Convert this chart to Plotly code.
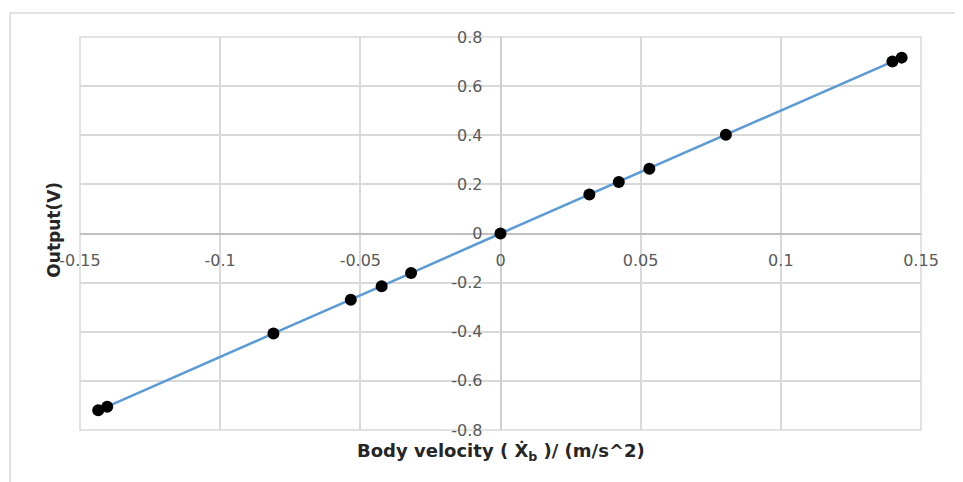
import plotly.graph_objects as go

velocity = [-0.1435, -0.1403, -0.081, -0.0534, -0.0424, -0.0319, 0.0,
            0.0317, 0.0422, 0.0531, 0.0804, 0.1398, 0.1431]
output_v = [-0.72, -0.705, -0.407, -0.27, -0.215, -0.161, 0.0,
            0.159, 0.21, 0.264, 0.402, 0.70, 0.716]

x_ticks = [-0.15, -0.1, -0.05, 0, 0.05, 0.1, 0.15]
x_tick_labels = ["-0.15", "-0.1", "-0.05", "0", "0.05", "0.1", "0.15"]
y_ticks = [-0.8, -0.6, -0.4, -0.2, 0, 0.2, 0.4, 0.6, 0.8]
y_tick_labels = ["-0.8", "-0.6", "-0.4", "-0.2", "0", "0.2", "0.4", "0.6", "0.8"]

x_title = "Body velocity ( Ẋ<sub>b</sub> )/ (m/s^2)"
y_title = "Output(V)"

fig = go.Figure()
fig.add_trace(go.Scatter(
    x=velocity, y=output_v, mode="lines+markers",
    line=dict(color="#5B9BD5", width=2.5),
    marker=dict(color="black", size=12),
    showlegend=False, cliponaxis=False,
))

tick_font = dict(family="DejaVu Sans", size=16, color="#595959")

fig.update_layout(
    width=963, height=482,
    margin=dict(l=72, r=50, t=29, b=60),
    paper_bgcolor="white", plot_bgcolor="white",
    xaxis=dict(
        range=[-0.15, 0.15], tickvals=x_ticks, ticktext=x_tick_labels,
        showgrid=True, gridcolor="#d9d9d9", gridwidth=1.5,
        zeroline=True, zerolinecolor="#cfcfcf", zerolinewidth=1.5,
        anchor="free", position=0.5, ticks="", tickfont=tick_font,
        ticklabelstandoff=15, showline=False,
    ),
    yaxis=dict(
        range=[-0.8, 0.8], tickvals=y_ticks, ticktext=y_tick_labels,
        showgrid=True, gridcolor="#d9d9d9", gridwidth=1.5,
        zeroline=True, zerolinecolor="#bfbfbf", zerolinewidth=1.5,
        anchor="free", position=0.5, ticks="", tickfont=tick_font,
        ticklabelstandoff=18, showline=False,
    ),
    shapes=[
        dict(type="rect", xref="paper", yref="paper",
             x0=-0.083, x1=1.2, y0=-0.3, y1=1.061,
             line=dict(color="#d9d9d9", width=1.5), layer="below"),
        dict(type="rect", xref="paper", yref="paper",
             x0=0, x1=1, y0=0, y1=1,
             line=dict(color="#d9d9d9", width=1.5), layer="below"),
    ],
    annotations=[
        dict(text="<b>" + x_title + "</b>", xref="paper", yref="paper",
             x=0.5, y=-0.056, xanchor="center", yanchor="middle", showarrow=False,
             font=dict(family="DejaVu Sans", size=18, color="#262626")),
        dict(text="<b>" + y_title + "</b>", xref="paper", yref="paper",
             x=-0.032, y=0.51, xanchor="center", yanchor="middle", textangle=-90,
             showarrow=False,
             font=dict(family="DejaVu Sans", size=17, color="#262626")),
    ],
)

fig.write_html("out.html")
